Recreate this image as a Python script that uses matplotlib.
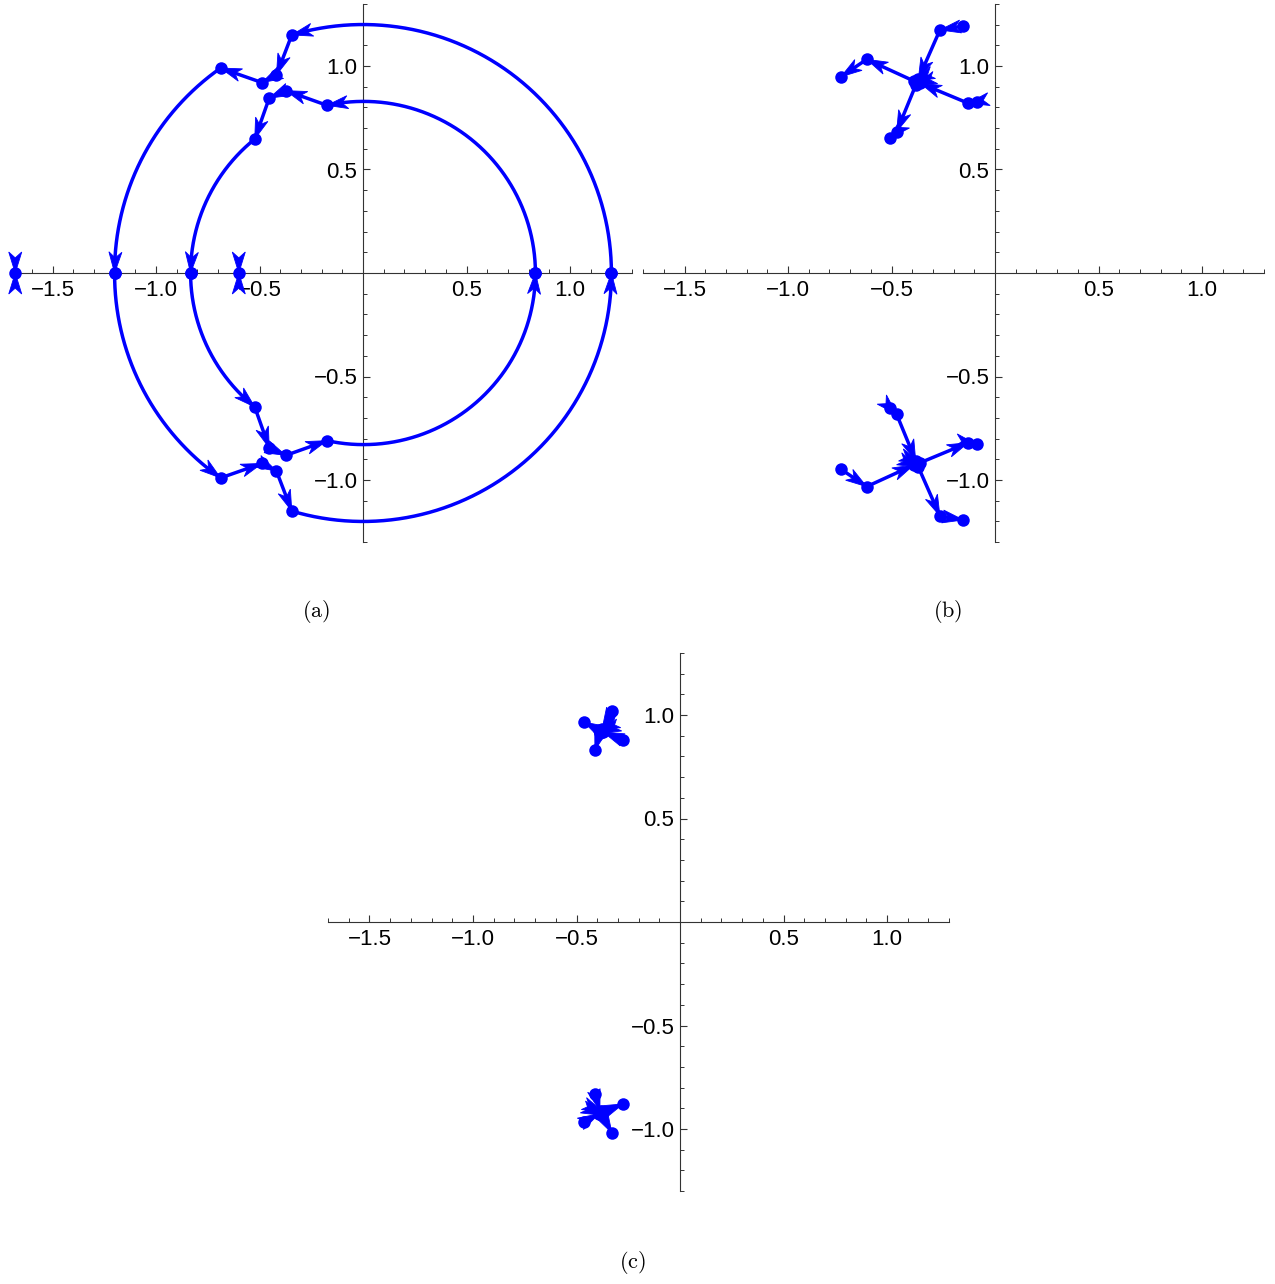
import numpy as np
import matplotlib
matplotlib.use("Agg")
import matplotlib.pyplot as plt
from matplotlib.patches import Polygon
from matplotlib.ticker import MultipleLocator, FixedLocator

plt.rcParams['font.family'] = ['Liberation Sans', 'DejaVu Sans']
plt.rcParams['mathtext.fontset'] = 'cm'

BLUE = "#0000ff"

# ---------------- data (upper half-plane paths; lower half is the mirror image, traversed in reverse)
# Panel (a)
a_outer_x = [1.200, -0.344, -0.418, -0.488, -0.688, -1.200]
a_outer_y = [0.000, 1.150, 0.957, 0.920, 0.990, 0.000]
a_inner_x = [0.833, -0.174, -0.373, -0.453, -0.523, -0.833]
a_inner_y = [0.000, 0.810, 0.881, 0.845, 0.647, 0.000]
a_arc_segments = [0, 4]          # these segments follow arcs about the origin
a_real_roots = [-1.68, -0.60]

# Panel (b)
b_outer_x = [-0.153, -0.266, -0.370, -0.393, -0.620, -0.744]
b_outer_y = [1.193, 1.174, 0.938, 0.928, 1.032, 0.948]
b_inner_x = [-0.089, -0.129, -0.360, -0.383, -0.475, -0.507]
b_inner_y = [0.828, 0.820, 0.916, 0.907, 0.683, 0.651]

# Panel (c)
c_outer_x = [-0.329, -0.376, -0.392, -0.464]
c_outer_y = [1.019, 0.934, 0.927, 0.966]
c_inner_x = [-0.275, -0.371, -0.387, -0.411]
c_inner_y = [0.879, 0.918, 0.911, 0.831]

x_major = [-1.5, -1.0, -0.5, 0.5, 1.0]
x_labels = ['\u22121.5', '\u22121.0', '\u22120.5', '0.5', '1.0']
y_major = [-1.0, -0.5, 0.5, 1.0]
y_labels = ['\u22121.0', '\u22120.5', '0.5', '1.0']
captions = ['(a)', '(b)', '(c)']

# ---------------- layout
W, H = 1275, 1284
SCALE = 207.0
XL = (-1.7, 1.3)
YL = (-1.3, 1.3)
AH_L = 21.0      # arrowhead length, px
AH_W = 6.5       # arrowhead half width, px

fig = plt.figure(figsize=(W / 100, H / 100), dpi=100)


def make_axes(ox, oy):
    left = ox + XL[0] * SCALE
    right = ox + XL[1] * SCALE
    top = oy - YL[1] * SCALE
    bottom = oy - YL[0] * SCALE
    ax = fig.add_axes([left / W, 1 - bottom / H, (right - left) / W, (bottom - top) / H])
    ax.set_xlim(*XL)
    ax.set_ylim(*YL)
    ax.set_facecolor('none')
    for s in ['top', 'right']:
        ax.spines[s].set_visible(False)
    for s in ['left', 'bottom']:
        ax.spines[s].set_position(('data', 0))
        ax.spines[s].set_linewidth(0.8)
        ax.spines[s].set_color('#333333')
    ax.xaxis.set_major_locator(FixedLocator(x_major))
    ax.yaxis.set_major_locator(FixedLocator(y_major))
    ax.set_xticklabels(x_labels)
    ax.set_yticklabels(y_labels)
    ax.xaxis.set_minor_locator(MultipleLocator(0.1))
    ax.yaxis.set_minor_locator(MultipleLocator(0.1))
    ax.tick_params(which='major', direction='in', length=5, width=0.8, color='#333333',
                   labelsize=16, pad=5)
    ax.tick_params(axis='y', which='major', pad=4)
    ax.tick_params(which='minor', direction='in', length=3, width=0.7, color='#333333')
    return ax


def arrowhead(ax, tip, back):
    T = ax.transData.transform(tip)
    B = ax.transData.transform(back)
    d = T - B
    n = np.hypot(*d)
    if n == 0:
        return
    d = d / n
    p = np.array([-d[1], d[0]])
    pts = [T, T - AH_L * d + AH_W * p, T - 0.72 * AH_L * d, T - AH_L * d - AH_W * p]
    data = ax.transData.inverted().transform(np.array(pts))
    ax.add_patch(Polygon(data, closed=True, facecolor=BLUE, edgecolor=BLUE, lw=0.6,
                         zorder=4, clip_on=False))


def draw_path(ax, xs, ys, arcs=()):
    z = np.array(xs) + 1j * np.array(ys)
    for i in range(len(z) - 1):
        p, q = z[i], z[i + 1]
        if i in arcs:
            t0, t1 = np.angle(p), np.angle(q)
            dt = (t1 - t0 + np.pi) % (2 * np.pi) - np.pi
            t = np.linspace(0, 1, 300)
            seg = (abs(p) + (abs(q) - abs(p)) * t) * np.exp(1j * (t0 + dt * t))
            dist = np.abs(seg - q)
            idx = np.where(dist >= AH_L / SCALE)[0]
            back = seg[idx[-1]] if len(idx) else seg[0]
        else:
            seg = np.array([p, q])
            back = p
        ax.plot(seg.real, seg.imag, color=BLUE, lw=2.5, zorder=3, clip_on=False,
                solid_capstyle='round')
        arrowhead(ax, (q.real, q.imag), (back.real, back.imag))
    ax.plot(z.real, z.imag, 'o', ms=9, color=BLUE, zorder=5, clip_on=False, mew=0)


def draw_conjugate_pair(ax, xs, ys, arcs=()):
    draw_path(ax, xs, ys, arcs)
    n = len(xs)
    rev_arcs = [n - 2 - i for i in arcs]
    draw_path(ax, xs[::-1], [-v for v in ys[::-1]], rev_arcs)


# ---------------- panel (a)
ax_a = make_axes(363, 273)
draw_conjugate_pair(ax_a, a_outer_x, a_outer_y, a_arc_segments)
draw_conjugate_pair(ax_a, a_inner_x, a_inner_y, a_arc_segments)
for r in a_real_roots:
    arrowhead(ax_a, (r, 0.0), (r, 1.0))
    arrowhead(ax_a, (r, 0.0), (r, -1.0))
ax_a.plot(a_real_roots, [0.0] * len(a_real_roots), 'o', ms=9, color=BLUE, zorder=5,
          clip_on=False, mew=0)

# ---------------- panel (b)
ax_b = make_axes(995, 273)
draw_conjugate_pair(ax_b, b_outer_x, b_outer_y)
draw_conjugate_pair(ax_b, b_inner_x, b_inner_y)

# ---------------- panel (c)
ax_c = make_axes(680, 922)
draw_conjugate_pair(ax_c, c_outer_x, c_outer_y)
draw_conjugate_pair(ax_c, c_inner_x, c_inner_y)

# ---------------- captions
cap_pos = [(316, 612), (948, 612), (632, 1263)]
for (cx, cy), txt in zip(cap_pos, captions):
    fig.text(cx / W, 1 - cy / H, r'$\mathrm{' + txt + '}$', ha='center', va='center',
             fontsize=16)

fig.savefig('out.png', dpi=100)
